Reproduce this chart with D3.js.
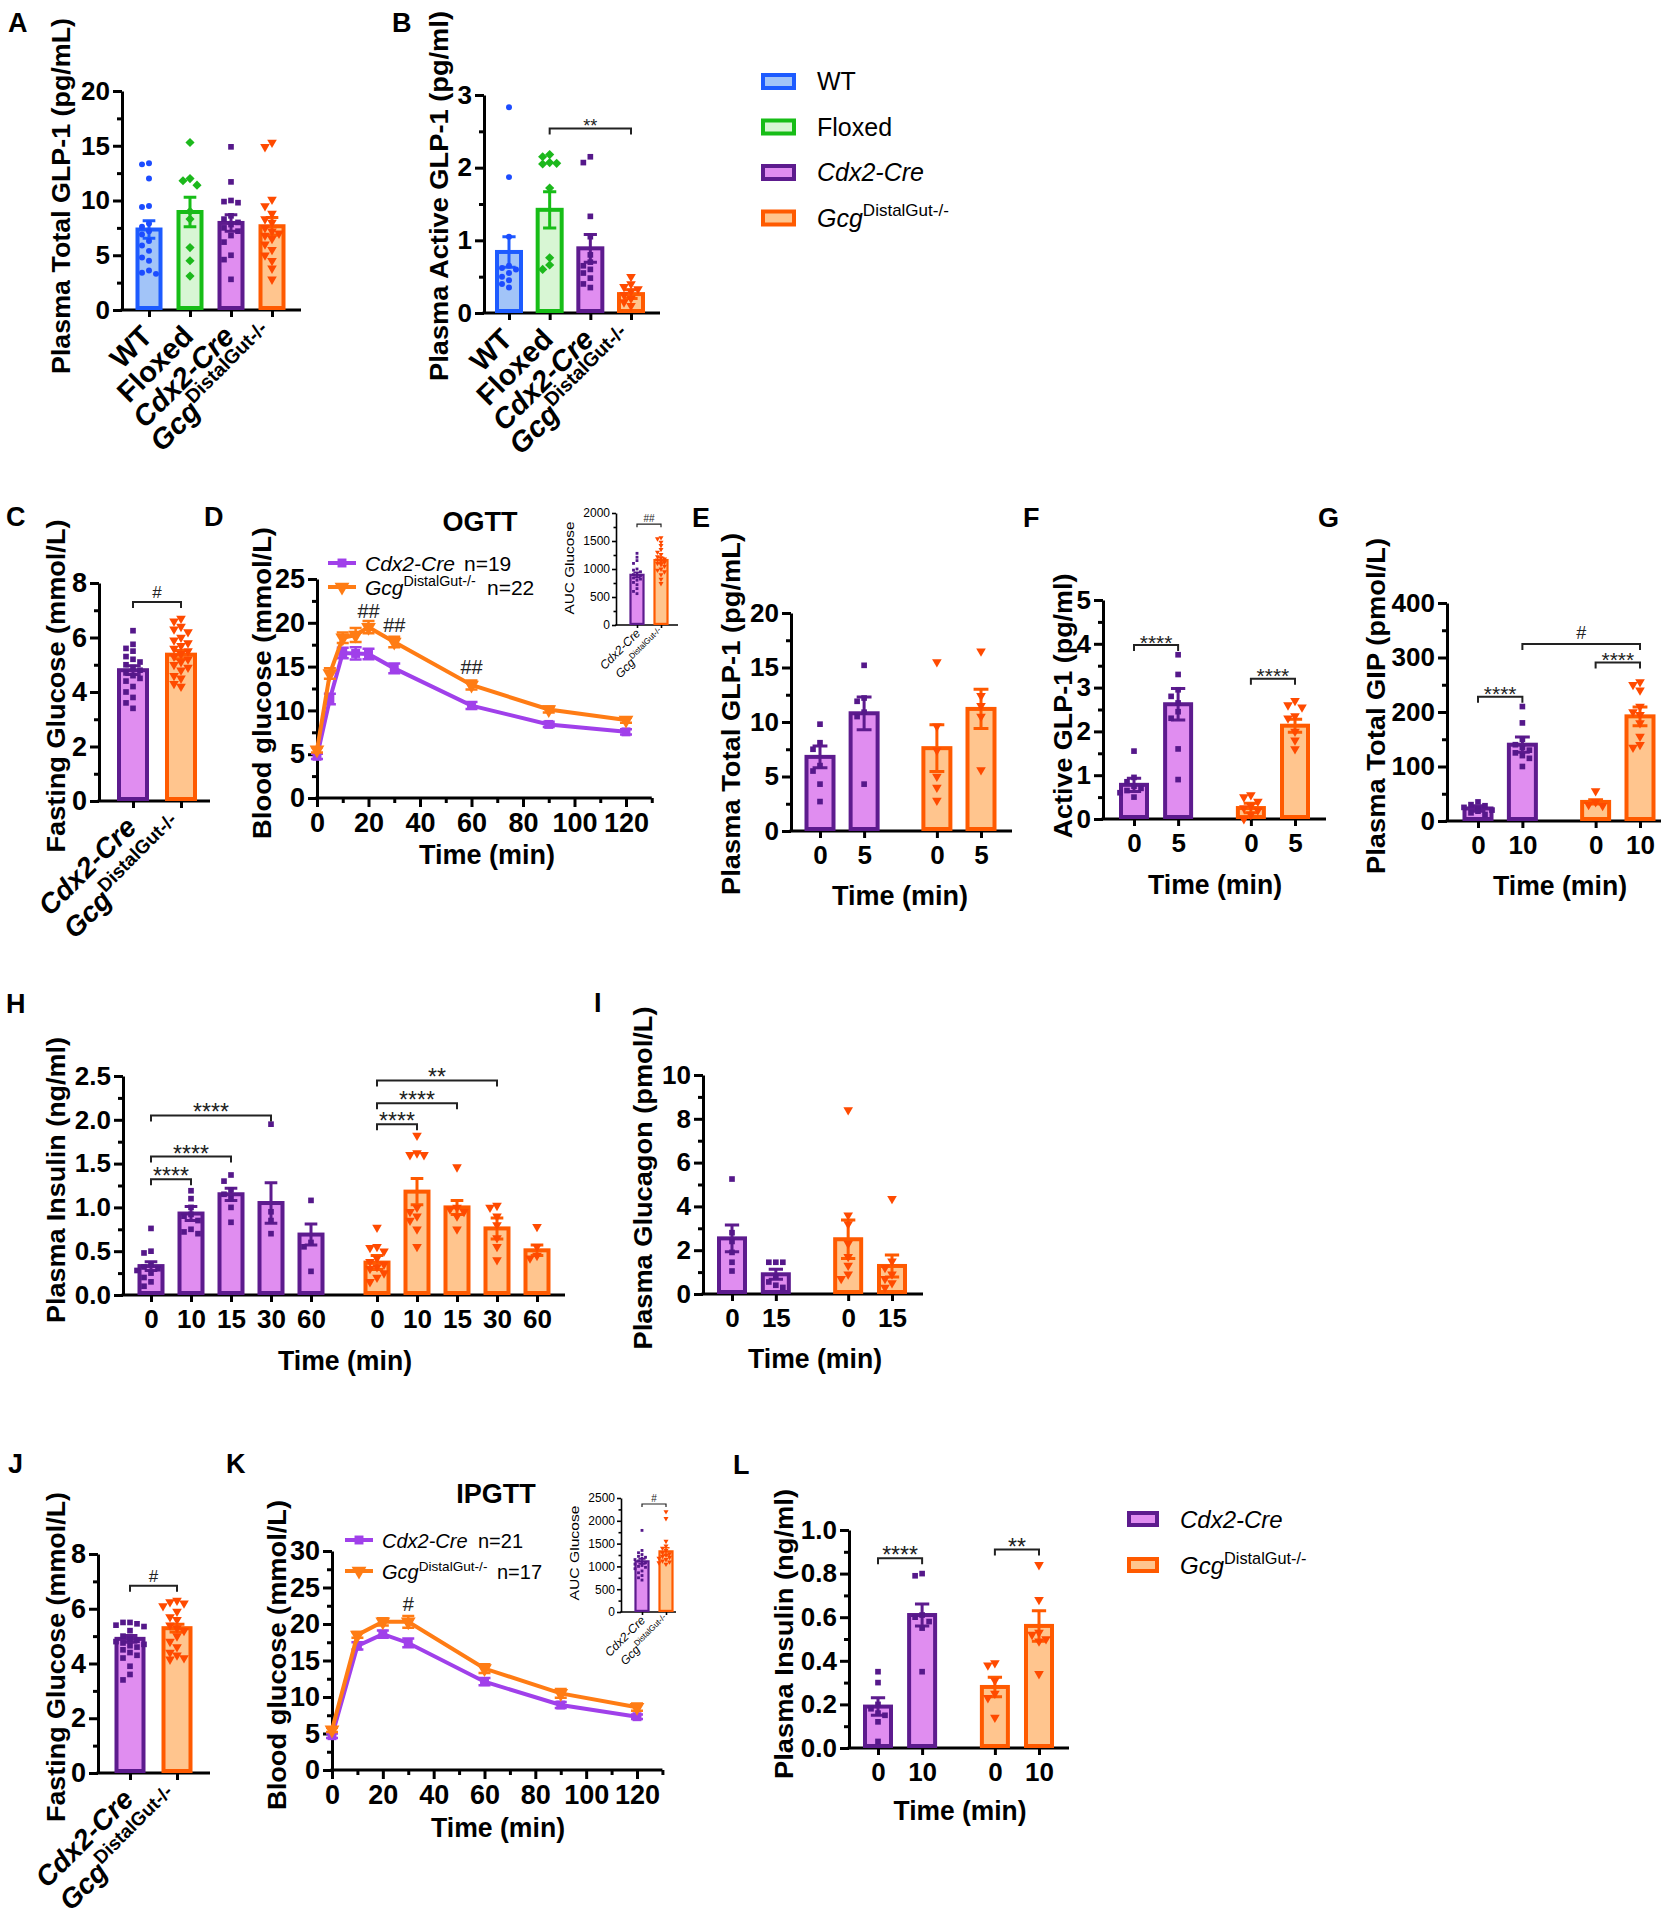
<!DOCTYPE html>
<html><head><meta charset="utf-8">
<script src="https://cdn.jsdelivr.net/npm/d3@7"></script>
<style>body{margin:0;background:#fff}</style>
</head><body>
<script>
// ======================= DATA =======================
const genoA = ["WT", "Floxed", "Cdx2-Cre", "Gcg^DistalGut-/-"];
const genoKeysA = ["wt", "fl", "cdx", "gcg"];
const geno2 = ["Cdx2-Cre", "Gcg^DistalGut-/-"];
const geno2Keys = ["cdx", "gcg"];

// A: Plasma total GLP-1
const A_mean = [7.35, 8.95, 7.95, 7.65];
const A_sem = [0.8, 1.35, 0.75, 0.8];
const A_pts = [
  [13.3, 13.4, 12.0, 9.4, 9.5, 7.9, 7.2, 6.9, 6.3, 5.9, 5.4, 4.8, 4.5, 3.6, 3.4, 3.3, 7.6],
  [15.3, 12.0, 11.8, 11.4, 9.0, 8.3, 5.7, 4.5, 3.1],
  [14.9, 11.7, 9.9, 9.8, 10.0, 8.6, 8.3, 7.8, 7.2, 6.8, 6.2, 5.0, 4.6, 2.8, 8.0, 7.5],
  [15.3, 14.9, 10.1, 9.5, 8.8, 8.3, 8.0, 7.5, 7.0, 6.5, 6.0, 5.5, 5.0, 4.5, 3.8, 2.8, 6.8, 7.2]
];
// B: Plasma active GLP-1
const B_mean = [0.84, 1.42, 0.89, 0.26];
const B_sem = [0.21, 0.25, 0.19, 0.06];
const B_pts = [
  [2.83, 1.87, 1.05, 0.65, 0.62, 0.55, 0.5, 0.45, 0.4, 0.35, 0.6],
  [2.18, 2.15, 2.07, 2.05, 2.06, 1.72, 0.76, 0.6, 0.66],
  [2.15, 2.07, 1.33, 1.05, 0.8, 0.7, 0.65, 0.55, 0.48, 0.4, 0.35, 0.6],
  [0.5, 0.4, 0.36, 0.33, 0.3, 0.25, 0.2, 0.15, 0.1]
];
// C: fasting glucose (OGTT cohort)
const C_mean = [4.8, 5.37];
const C_sem = [0.16, 0.15];
const C_pts = [
  [6.25, 5.75, 5.6, 5.5, 5.3, 5.2, 5.1, 5.0, 4.9, 4.8, 4.7, 4.6, 4.5, 4.4, 4.2, 4.0, 3.8, 3.6, 3.4],
  [6.7, 6.6, 6.4, 6.3, 6.2, 6.0, 5.9, 5.8, 5.7, 5.6, 5.5, 5.4, 5.3, 5.2, 5.1, 5.0, 4.9, 4.8, 4.6, 4.5, 4.3, 4.2]
];
// D: OGTT
const D_time = [0, 5, 10, 15, 20, 30, 60, 90, 120];
const D_cdx = [4.76, 11.3, 16.55, 16.5, 16.45, 14.8, 10.55, 8.4, 7.55];
const D_cdxSem = [0.3, 0.6, 0.6, 0.7, 0.6, 0.55, 0.4, 0.3, 0.3];
const D_gcg = [5.5, 14.2, 18.3, 18.6, 19.5, 17.8, 12.9, 10.1, 8.9];
const D_gcgSem = [0.3, 0.6, 0.6, 0.8, 0.7, 0.6, 0.5, 0.35, 0.3];
const D_sigTime = [20, 30, 60];
const D_sigVal = [21.3, 19.8, 15.0];
const D_n = ["n=19", "n=22"];
const D_aucMean = [896, 1160];
const D_aucSem = [45, 45];
const D_aucPts = [
  [1280, 1210, 1150, 1100, 1000, 980, 950, 920, 900, 880, 860, 840, 820, 800, 760, 720, 650, 600, 560],
  [1560, 1540, 1480, 1420, 1350, 1300, 1260, 1220, 1200, 1180, 1160, 1140, 1120, 1100, 1080, 1050, 1000, 980, 950, 900, 820, 740]
];
// E: total GLP-1 (0, 5 min)
const E_times = ["0", "5"];
const E_mean = [[6.8, 10.8], [7.6, 11.2]];
const E_sem = [[1.0, 1.5], [2.15, 1.8]];
const E_pts = [
  [[9.8, 8.1, 7.5, 6.0, 5.5, 4.3, 2.7], [15.2, 12.2, 11.9, 10.9, 10.5, 4.3]],
  [[15.5, 9.6, 7.4, 5.0, 4.0, 2.8], [16.5, 12.4, 11.5, 10.5, 5.6]]
];
// F: active GLP-1
const F_times = ["0", "5"];
const F_mean = [[0.78, 2.62], [0.25, 2.13]];
const F_sem = [[0.15, 0.36], [0.11, 0.15]];
const F_pts = [
  [[1.55, 0.95, 0.85, 0.75, 0.7, 0.65, 0.6, 0.5], [3.75, 3.3, 2.95, 2.8, 2.65, 2.45, 2.3, 1.6, 0.9]],
  [[0.55, 0.5, 0.4, 0.3, 0.25, 0.2, 0.1, 0.0], [2.7, 2.6, 2.55, 2.35, 2.3, 2.0, 1.8, 1.6]]
];
// G: total GIP
const G_times = ["0", "10"];
const G_mean = [[23, 140], [35, 192]];
const G_sem = [[5, 14], [4, 17]];
const G_pts = [
  [[35, 30, 28, 25, 22, 20, 18, 15, 12], [210, 180, 150, 140, 135, 130, 125, 120, 115, 100]],
  [[55, 35, 30, 28], [255, 250, 240, 210, 200, 195, 180, 155, 140, 135]]
];
// H: plasma insulin OGTT
const H_times = ["0", "10", "15", "30", "60"];
const H_mean = [[0.33, 0.93, 1.15, 1.05, 0.69], [0.37, 1.18, 1.0, 0.76, 0.51]];
const H_sem = [[0.05, 0.08, 0.07, 0.23, 0.12], [0.08, 0.15, 0.08, 0.12, 0.06]];
const H_pts = [
  [[0.76, 0.5, 0.48, 0.35, 0.3, 0.28, 0.25, 0.2, 0.15, 0.1, 0.32],
   [1.19, 1.1, 1.0, 0.92, 0.9, 0.85, 0.75, 0.72, 0.7],
   [1.37, 1.3, 1.2, 1.15, 1.1, 1.0, 0.83],
   [1.95, 0.95, 0.85, 0.7],
   [1.08, 0.6, 0.55, 0.27]],
  [[0.77, 0.55, 0.54, 0.5, 0.42, 0.35, 0.3, 0.25, 0.2, 0.15, 0.32, 0.38],
   [1.82, 1.62, 1.6, 1.6, 1.0, 0.95, 0.9, 0.85, 0.75, 0.55],
   [1.46, 1.0, 0.98, 0.95, 0.9, 0.75],
   [1.02, 1.0, 0.9, 0.8, 0.65, 0.55, 0.4],
   [0.78, 0.55, 0.45, 0.42]]
];
// I: plasma glucagon
const I_times = ["0", "15"];
const I_mean = [[2.54, 0.9], [2.5, 1.28]];
const I_sem = [[0.61, 0.23], [0.88, 0.5]];
const I_pts = [
  [[5.25, 2.8, 2.4, 1.9, 1.45, 1.05], [1.45, 1.45, 1.45, 0.8, 0.55, 0.4, 0.3]],
  [[8.4, 3.6, 3.2, 2.3, 1.7, 1.3, 0.9, 0.7], [4.35, 1.5, 1.2, 0.9, 0.7, 0.5, 0.3]]
];
// J: fasting glucose (IPGTT cohort)
const J_mean = [4.9, 5.29];
const J_sem = [0.12, 0.14];
const J_pts = [
  [5.5, 5.5, 5.45, 5.4, 5.35, 5.2, 5.0, 4.9, 4.85, 4.8, 4.75, 4.7, 4.65, 4.6, 4.5, 4.4, 4.3, 4.2, 3.9, 3.6, 3.4],
  [6.3, 6.25, 6.2, 6.1, 5.9, 5.7, 5.6, 5.4, 5.3, 5.2, 5.0, 4.8, 4.6, 4.4, 4.3, 4.2, 4.15]
];
// K: IPGTT
const K_time = [0, 10, 20, 30, 60, 90, 120];
const K_cdx = [4.7, 17.0, 18.6, 17.4, 12.1, 8.9, 7.3];
const K_cdxSem = [0.3, 0.5, 0.5, 0.6, 0.5, 0.4, 0.3];
const K_gcg = [5.5, 18.5, 20.3, 20.3, 13.9, 10.5, 8.6];
const K_gcgSem = [0.3, 0.4, 0.5, 0.8, 0.6, 0.6, 0.5];
const K_sigTime = [30];
const K_sigVal = [22.7];
const K_n = ["n=21", "n=17"];
const K_aucMean = [1111, 1330];
const K_aucSem = [55, 80];
const K_aucPts = [
  [1790, 1350, 1300, 1260, 1220, 1200, 1180, 1150, 1120, 1100, 1080, 1050, 1020, 1000, 980, 950, 900, 860, 800, 750, 700],
  [2200, 2050, 1550, 1450, 1400, 1350, 1300, 1280, 1250, 1220, 1200, 1180, 1150, 1120, 1100, 1080, 1050]
];
// L: plasma insulin IPGTT
const L_times = ["0", "10"];
const L_mean = [[0.19, 0.61], [0.28, 0.56]];
const L_sem = [[0.04, 0.05], [0.045, 0.07]];
const L_pts = [
  [[0.35, 0.3, 0.2, 0.18, 0.16, 0.15, 0.12, 0.03], [0.8, 0.79, 0.61, 0.6, 0.58, 0.55, 0.35]],
  [[0.39, 0.38, 0.31, 0.25, 0.23, 0.14], [0.84, 0.68, 0.53, 0.52, 0.5, 0.49, 0.34]]
];

// ======================= STYLE =======================
const FONT = "'Liberation Sans', Arial, Helvetica, sans-serif";
const ITALIC = new Set(["Cdx2-Cre", "Gcg"]);
const STY = {
  wt:  {stroke: "#1d5bff", fill: "#a2c4f8", pt: "#1c4cff", shape: "circle"},
  fl:  {stroke: "#17bd17", fill: "#d8f6d4", pt: "#1cb81c", shape: "diamond"},
  cdx: {stroke: "#5d1b8e", fill: "#e08df0", pt: "#55188a", shape: "square", line: "#a040ea"},
  gcg: {stroke: "#ff5a00", fill: "#ffc58e", pt: "#ff4a00", shape: "tri", line: "#ff7c14"}
};

const svg = d3.select("body").append("svg")
  .attr("width", 1665).attr("height", 1920)
  .style("font-family", FONT).style("background", "#fff");

// ======================= HELPERS =======================
function richText(t, label, fs, supScale = 0.68) {
  const parts = label.split("^");
  t.append("tspan").text(parts[0]).attr("font-style", ITALIC.has(parts[0]) ? "italic" : "normal");
  if (parts[1]) t.append("tspan").text(parts[1]).attr("font-size", fs * supScale)
    .attr("dy", -fs * 0.42).attr("font-style", "normal");
}
function text(x, y, s, o = {}) {
  const t = svg.append("text")
    .attr("transform", `translate(${x},${y}) rotate(${o.rot || 0})`)
    .attr("font-size", o.fs || 25)
    .attr("font-weight", o.weight || "bold")
    .attr("text-anchor", o.anchor || "middle")
    .attr("fill", "#000");
  if (o.central) t.attr("dominant-baseline", "central");
  if (o.len) t.attr("textLength", o.len).attr("lengthAdjust", "spacingAndGlyphs");
  richText(t, s, o.fs || 25);
  return t;
}
function marker(x, y, shape, size, color, sel = svg) {
  let type = d3.symbolSquare, rot = 0;
  if (shape === "circle") type = d3.symbolCircle;
  if (shape === "diamond") { type = d3.symbolSquare; rot = 45; }
  if (shape === "tri") { type = d3.symbolTriangle; rot = 180; }
  sel.append("path").attr("d", d3.symbol(type, size)())
    .attr("transform", `translate(${x},${y}) rotate(${rot})`).attr("fill", color);
}
function swarm(vals, ys, cx, d, maxOff) {
  const placed = [];
  vals.map(v => v).sort((a, b) => b - a).forEach(v => {
    const py = ys(v);
    let off = 0;
    for (let k = 0; k < 30; k++) {
      const o = k === 0 ? 0 : (k % 2 ? -1 : 1) * Math.ceil(k / 2) * d;
      if (Math.abs(o) > maxOff) { off = 0; break; }
      if (!placed.some(p => Math.abs(p.x - (cx + o)) < d - 0.3 && Math.abs(p.y - py) < d - 0.3)) { off = o; break; }
    }
    placed.push({x: cx + off, y: py});
  });
  return placed;
}
function yAxis(ys, x, majors, minorStep, fmt, fs, small) {
  const sw = small ? 1.6 : 3;
  const g = svg.append("g").attr("transform", `translate(${x},0)`)
    .call(d3.axisLeft(ys).tickValues(majors).tickFormat(fmt).tickSize(small ? 4 : 9).tickSizeOuter(0).tickPadding(small ? 2 : 3));
  g.select(".domain").attr("stroke", "#000").attr("stroke-width", sw);
  g.selectAll(".tick line").attr("stroke", "#000").attr("stroke-width", sw);
  g.selectAll(".tick text").attr("font-size", fs).attr("font-weight", small ? "normal" : "bold")
    .attr("font-family", FONT).attr("fill", "#000");
  const [lo, hi] = ys.domain();
  const minors = d3.range(lo + minorStep, hi, minorStep).filter(v => !majors.some(m => Math.abs(m - v) < 1e-6));
  if (minors.length) {
    const g2 = svg.append("g").attr("transform", `translate(${x},0)`)
      .call(d3.axisLeft(ys).tickValues(minors).tickFormat("").tickSize(small ? 2.5 : 5).tickSizeOuter(0));
    g2.select(".domain").remove();
    g2.selectAll(".tick line").attr("stroke", "#000").attr("stroke-width", sw);
  }
}
function bracket(x1, x2, y, label, fs, tick = 6, sw = 2, up = 0) {
  svg.append("path").attr("d", `M${x1},${y + tick}V${y}H${x2}V${y + tick}`)
    .attr("fill", "none").attr("stroke", "#222").attr("stroke-width", sw);
  const isStar = label.includes("*");
  svg.append("text").attr("x", (x1 + x2) / 2).attr("y", isStar ? y + fs * 0.22 - up : y - fs * 0.25 - up)
    .attr("text-anchor", "middle").attr("font-size", fs).attr("fill", "#222").text(label);
}
function letter(x, y, s) { text(x, y, s, {fs: 27, anchor: "start"}); }

// Generic bar + scatter panel
function barPanel(o) {
  const small = !!o.small;
  const ys = d3.scaleLinear().domain([0, o.yMax]).range([o.y0, o.yTop]);
  const lastSlot = d3.max(o.bars, b => b.slot);
  const xs = d3.scaleLinear().domain([0, lastSlot]).range([o.firstX, o.lastX]);
  const sw = small ? 1.6 : 3;
  yAxis(ys, o.axisX, o.majors, o.minorStep, o.fmt || d3.format("d"), o.fs, small);
  svg.append("line").attr("x1", o.axisX - sw / 2).attr("x2", o.xEnd).attr("y1", o.y0).attr("y2", o.y0)
    .attr("stroke", "#000").attr("stroke-width", sw);
  const gx = svg.append("g").attr("transform", `translate(0,${o.y0})`)
    .call(d3.axisBottom(xs).tickValues(o.bars.map(b => b.slot)).tickSizeOuter(0).tickSize(small ? 3 : 7)
      .tickPadding(small ? 2 : 8).tickFormat((d, i) => o.rot ? "" : o.bars[i].tick));
  gx.select(".domain").remove();
  gx.selectAll(".tick line").attr("stroke", "#000").attr("stroke-width", sw);
  gx.selectAll(".tick text").attr("font-size", o.fs).attr("font-weight", "bold").attr("font-family", FONT).attr("fill", "#000");

  const bw = o.barW, bsw = small ? 2.2 : 4;
  o.bars.forEach(b => {
    const st = STY[b.s], cx = xs(b.slot);
    svg.append("rect").attr("x", cx - bw / 2).attr("width", bw)
      .attr("y", ys(b.mean)).attr("height", o.y0 - ys(b.mean) - bsw / 2)
      .attr("fill", st.fill).attr("stroke", st.stroke).attr("stroke-width", bsw);
    const cw = bw * 0.55, esw = small ? 1.6 : 3;
    const yHi = ys(b.mean + b.sem), yLo = ys(Math.max(0, b.mean - b.sem));
    svg.append("path").attr("d", `M${cx},${yLo}V${yHi}M${cx - cw / 2},${yHi}H${cx + cw / 2}M${cx - cw / 2},${yLo}H${cx + cw / 2}`)
      .attr("stroke", st.stroke).attr("stroke-width", esw).attr("fill", "none");
    const d = o.ptGap || 7;
    swarm(b.pts, ys, cx, d, bw / 2 + d).forEach(p => marker(p.x, p.y, st.shape, o.ptSize[st.shape], st.pt));
    if (o.rot) {
      text(cx + (o.rotDx ?? 5), o.y0 + (o.rotDy ?? 28), b.label, {fs: o.rotFs, rot: -45, anchor: "end", weight: small ? "normal" : "bold"});
    }
  });
  (o.sigs || []).forEach(s => bracket(xs(s.a), xs(s.b), ys(s.v), s.t, s.fs || 16, small ? 3 : 6, small ? 1.2 : 2));
  if (o.ylab) text(o.ylab.x, o.ylab.y, o.ylab.t, {fs: o.ylab.fs || 26, rot: -90, central: true, len: o.ylab.len, weight: small ? "normal" : "bold"});
  if (o.xlab) text(o.xlab.x, o.xlab.y, o.xlab.t, {fs: 27, len: o.xlab.len});
  return {xs, ys};
}
function groupedBars(keys, times, means, sems, pts) {
  const out = [];
  keys.forEach((k, g) => times.forEach((t, i) => out.push({
    slot: i + g * (times.length + 0.65), s: k, tick: t, mean: means[g][i], sem: sems[g][i], pts: pts[g][i]
  })));
  return out;
}
const slotOf = (n) => (g, i) => i + g * (n + 0.65);

// Line (tolerance test) panel
function linePanel(o) {
  const xs = d3.scaleLinear().domain([0, 120]).range([o.x0, o.x120]);
  const ys = d3.scaleLinear().domain([0, o.yMax]).range([o.y0, o.yTop]);
  yAxis(ys, xs(0), o.majors, o.minorStep, d3.format("d"), o.fs, false);
  const gx = svg.append("g").attr("transform", `translate(0,${o.y0})`)
    .call(d3.axisBottom(xs).tickValues(d3.range(0, 121, 20)).tickSize(9).tickSizeOuter(0).tickPadding(6).tickFormat(d3.format("d")));
  gx.select(".domain").remove();
  gx.selectAll(".tick line").attr("stroke", "#000").attr("stroke-width", 3);
  gx.selectAll(".tick text").attr("font-size", o.fs).attr("font-weight", "bold").attr("font-family", FONT).attr("fill", "#000");
  const gm = svg.append("g").attr("transform", `translate(0,${o.y0})`)
    .call(d3.axisBottom(xs).tickValues(d3.range(10, 131, 20)).tickSize(5).tickSizeOuter(0).tickFormat(""));
  gm.select(".domain").remove();
  gm.selectAll(".tick line").attr("stroke", "#000").attr("stroke-width", 3);
  svg.append("line").attr("x1", xs(0) - 1.5).attr("x2", xs(130)).attr("y1", o.y0).attr("y2", o.y0)
    .attr("stroke", "#000").attr("stroke-width", 3);

  o.series.forEach(se => {
    const st = STY[se.s];
    svg.append("path").datum(o.time.map((t, i) => [t, se.v[i]]))
      .attr("d", d3.line().x(d => xs(d[0])).y(d => ys(d[1])))
      .attr("fill", "none").attr("stroke", st.line).attr("stroke-width", 4);
    o.time.forEach((t, i) => {
      const cx = xs(t), h = ys(se.v[i] + se.e[i]), l = ys(se.v[i] - se.e[i]);
      svg.append("path").attr("d", `M${cx},${l}V${h}M${cx - 6},${h}H${cx + 6}M${cx - 6},${l}H${cx + 6}`)
        .attr("stroke", st.line).attr("stroke-width", 2.5).attr("fill", "none");
      marker(cx, ys(se.v[i]), st.shape, st.shape === "tri" ? 95 : 80, st.line);
    });
  });
  o.sigT.forEach((t, i) => svg.append("text").attr("x", xs(t)).attr("y", ys(o.sigV[i]) + 7)
    .attr("text-anchor", "middle").attr("font-size", 20).attr("fill", "#222").text(o.sigT.length > 1 ? "##" : "#"));
  // legend
  o.series.forEach((se, i) => {
    const st = STY[se.s], ly = o.legY + i * o.legDy;
    svg.append("line").attr("x1", o.legX).attr("x2", o.legX + 28).attr("y1", ly).attr("y2", ly)
      .attr("stroke", st.line).attr("stroke-width", 4);
    marker(o.legX + 14, ly, st.shape, st.shape === "tri" ? 95 : 80, st.line);
    text(o.legX + 37, ly + 8, geno2[i], {fs: o.legFs, anchor: "start", weight: "normal"});
    text(o.nX[i], ly + 8, o.n[i], {fs: o.legFs, anchor: "start", weight: "normal"});
  });
  text(o.title.x, o.title.y, o.title.t, {fs: 27});
  text(o.ylab.x, o.ylab.y, o.ylab.t, {fs: 26, rot: -90, central: true, len: o.ylab.len});
  text(o.xlab.x, o.xlab.y, "Time (min)", {fs: 27, len: o.xlab.len});
}

const PT = {circle: 28, diamond: 42, square: 32, tri: 40};
const PT_S = {circle: 8, diamond: 10, square: 8, tri: 11};

// ======================= PANEL A =======================
letter(8, 32, "A");
barPanel({
  axisX: 122, y0: 310, yTop: 91, xEnd: 301, yMax: 20, majors: [0, 5, 10, 15, 20], minorStep: 2.5, fs: 26,
  firstX: 149, lastX: 272, barW: 23, ptSize: PT, rot: true, rotFs: 29,
  bars: genoA.map((g, i) => ({slot: i, s: genoKeysA[i], label: g, mean: A_mean[i], sem: A_sem[i], pts: A_pts[i]})),
  ylab: {t: "Plasma Total GLP-1 (pg/mL)", x: 61, y: 196, len: 356}
});
// ======================= PANEL B =======================
letter(392, 32, "B");
barPanel({
  axisX: 484, y0: 313, yTop: 95, xEnd: 660, yMax: 3, majors: [0, 1, 2, 3], minorStep: 0.5, fs: 26,
  firstX: 509, lastX: 631, barW: 24, ptSize: PT, rot: true, rotFs: 29,
  bars: genoA.map((g, i) => ({slot: i, s: genoKeysA[i], label: g, mean: B_mean[i], sem: B_sem[i], pts: B_pts[i]})),
  sigs: [{a: 1, b: 3, v: 2.54, t: "**", fs: 18}],
  ylab: {t: "Plasma Active GLP-1 (pg/ml)", x: 439, y: 196, len: 370}
});
// top legend
genoA.forEach((g, i) => {
  const st = STY[genoKeysA[i]], cy = 81.5 + i * 45.5;
  svg.append("rect").attr("x", 763).attr("y", cy - 6.5).attr("width", 31).attr("height", 13)
    .attr("fill", st.fill).attr("stroke", st.stroke).attr("stroke-width", 4);
  text(817, cy + 8.5, g, {fs: 25, anchor: "start", weight: "normal"});
});

// ======================= PANEL C =======================
letter(6, 526, "C");
barPanel({
  axisX: 99, y0: 801, yTop: 583, xEnd: 210, yMax: 8, majors: [0, 2, 4, 6, 8], minorStep: 1, fs: 27,
  firstX: 133, lastX: 181, barW: 28, ptSize: PT, rot: true, rotFs: 28,
  bars: geno2.map((g, i) => ({slot: i, s: geno2Keys[i], label: g, mean: C_mean[i], sem: C_sem[i], pts: C_pts[i]})),
  sigs: [{a: 0, b: 1, v: 7.3, t: "#", fs: 17}],
  ylab: {t: "Fasting Glucose (mmol/L)", x: 56, y: 686, len: 333}
});
// ======================= PANEL D =======================
letter(204, 526, "D");
linePanel({
  x0: 317, x120: 626, y0: 798, yTop: 579, yMax: 25, majors: [0, 5, 10, 15, 20, 25], minorStep: 2.5, fs: 27,
  time: D_time,
  series: [{s: "cdx", v: D_cdx, e: D_cdxSem}, {s: "gcg", v: D_gcg, e: D_gcgSem}],
  sigT: D_sigTime, sigV: D_sigVal,
  legX: 328, legY: 563, legDy: 24, legFs: 21, n: D_n, nX: [464, 487],
  title: {t: "OGTT", x: 480, y: 531},
  ylab: {t: "Blood glucose (mmol/L)", x: 262, y: 683, len: 312},
  xlab: {x: 487, y: 864, len: 136}
});
barPanel({
  small: true, axisX: 616, y0: 625, yTop: 513, xEnd: 678, yMax: 2000, majors: [0, 500, 1000, 1500, 2000], minorStep: 250, fs: 12,
  firstX: 637, lastX: 661, barW: 13, ptSize: PT_S, ptGap: 3.5, rot: true, rotFs: 12, rotDx: 4, rotDy: 9,
  bars: geno2.map((g, i) => ({slot: i, s: geno2Keys[i], label: g, mean: D_aucMean[i], sem: D_aucSem[i], pts: D_aucPts[i]})),
  sigs: [{a: 0, b: 1, v: 1800, t: "##", fs: 10}],
  ylab: {t: "AUC Glucose", x: 569, y: 568, len: 93, fs: 13}
});

// ======================= PANEL E =======================
letter(692, 527, "E");
barPanel({
  axisX: 791, y0: 831, yTop: 613, xEnd: 1012, yMax: 20, majors: [0, 5, 10, 15, 20], minorStep: 2.5, fs: 26,
  firstX: 820, lastX: 981, barW: 27, ptSize: PT,
  bars: groupedBars(geno2Keys, E_times, E_mean, E_sem, E_pts),
  ylab: {t: "Plasma Total GLP-1 (pg/mL)", x: 731, y: 714, len: 362},
  xlab: {t: "Time (min)", x: 900, y: 905, len: 136}
});
// ======================= PANEL F =======================
letter(1023, 527, "F");
const sF = slotOf(F_times.length);
barPanel({
  axisX: 1103, y0: 819, yTop: 600, xEnd: 1326, yMax: 5, majors: [0, 1, 2, 3, 4, 5], minorStep: 0.5, fs: 26,
  firstX: 1134, lastX: 1295, barW: 26, ptSize: PT,
  bars: groupedBars(geno2Keys, F_times, F_mean, F_sem, F_pts),
  sigs: [{a: sF(0, 0), b: sF(0, 1), v: 3.97, t: "****", fs: 21}, {a: sF(1, 0), b: sF(1, 1), v: 3.2, t: "****", fs: 21}],
  ylab: {t: "Active GLP-1 (pg/ml)", x: 1063, y: 706, len: 265},
  xlab: {t: "Time (min)", x: 1215, y: 894, len: 134}
});
// ======================= PANEL G =======================
letter(1318, 527, "G");
const sG = slotOf(G_times.length);
barPanel({
  axisX: 1447, y0: 821, yTop: 603, xEnd: 1661, yMax: 400, majors: [0, 100, 200, 300, 400], minorStep: 50, fs: 26,
  firstX: 1478, lastX: 1640, barW: 27, ptSize: PT,
  bars: groupedBars(geno2Keys, G_times, G_mean, G_sem, G_pts),
  sigs: [{a: sG(0, 0), b: sG(0, 1), v: 228, t: "****", fs: 21}, {a: sG(1, 0), b: sG(1, 1), v: 291, t: "****", fs: 21},
         {a: sG(0, 1), b: sG(1, 1), v: 325, t: "#", fs: 18}],
  ylab: {t: "Plasma Total GIP (pmol/L)", x: 1376, y: 706, len: 336},
  xlab: {t: "Time (min)", x: 1560, y: 895, len: 134}
});

// ======================= PANEL H =======================
letter(6, 1013, "H");
const sH = slotOf(H_times.length);
barPanel({
  axisX: 123, y0: 1295, yTop: 1076, xEnd: 565, yMax: 2.5, majors: [0, 0.5, 1, 1.5, 2, 2.5], minorStep: 0.25, fs: 26,
  fmt: d3.format(".1f"), firstX: 151, lastX: 537, barW: 23, ptSize: PT,
  bars: groupedBars(geno2Keys, H_times, H_mean, H_sem, H_pts),
  sigs: [{a: sH(0, 0), b: sH(0, 1), v: 1.32, t: "****", fs: 23}, {a: sH(0, 0), b: sH(0, 2), v: 1.58, t: "****", fs: 23},
         {a: sH(0, 0), b: sH(0, 3), v: 2.05, t: "****", fs: 23}, {a: sH(1, 0), b: sH(1, 1), v: 1.95, t: "****", fs: 23},
         {a: sH(1, 0), b: sH(1, 2), v: 2.19, t: "****", fs: 23}, {a: sH(1, 0), b: sH(1, 3), v: 2.45, t: "**", fs: 23}],
  ylab: {t: "Plasma Insulin (ng/ml)", x: 56, y: 1180, len: 286},
  xlab: {t: "Time (min)", x: 345, y: 1370, len: 134}
});
// ======================= PANEL I =======================
letter(594, 1012, "I");
barPanel({
  axisX: 703, y0: 1294, yTop: 1075, xEnd: 923, yMax: 10, majors: [0, 2, 4, 6, 8, 10], minorStep: 1, fs: 26,
  firstX: 732, lastX: 892, barW: 26, ptSize: PT,
  bars: groupedBars(geno2Keys, I_times, I_mean, I_sem, I_pts),
  ylab: {t: "Plasma Glucagon (pmol/L)", x: 643, y: 1178, len: 343},
  xlab: {t: "Time (min)", x: 815, y: 1368, len: 134}
});

// ======================= PANEL J =======================
letter(8, 1473, "J");
barPanel({
  axisX: 98, y0: 1773, yTop: 1554, xEnd: 210, yMax: 8, majors: [0, 2, 4, 6, 8], minorStep: 1, fs: 27,
  firstX: 130, lastX: 177, barW: 27, ptSize: PT, rot: true, rotFs: 28,
  bars: geno2.map((g, i) => ({slot: i, s: geno2Keys[i], label: g, mean: J_mean[i], sem: J_sem[i], pts: J_pts[i]})),
  sigs: [{a: 0, b: 1, v: 6.84, t: "#", fs: 17}],
  ylab: {t: "Fasting Glucose (mmol/L)", x: 56, y: 1657, len: 330}
});
// ======================= PANEL K =======================
letter(226, 1473, "K");
linePanel({
  x0: 332, x120: 637, y0: 1770, yTop: 1551, yMax: 30, majors: [0, 5, 10, 15, 20, 25, 30], minorStep: 2.5, fs: 27,
  time: K_time,
  series: [{s: "cdx", v: K_cdx, e: K_cdxSem}, {s: "gcg", v: K_gcg, e: K_gcgSem}],
  sigT: K_sigTime, sigV: K_sigVal,
  legX: 345, legY: 1540, legDy: 31, legFs: 20, n: K_n, nX: [478, 497],
  title: {t: "IPGTT", x: 496, y: 1503},
  ylab: {t: "Blood glucose (mmol/L)", x: 277, y: 1655, len: 310},
  xlab: {x: 498, y: 1837, len: 134}
});
barPanel({
  small: true, axisX: 621, y0: 1612, yTop: 1498, xEnd: 676, yMax: 2500, majors: [0, 500, 1000, 1500, 2000, 2500], minorStep: 250, fs: 12,
  firstX: 642, lastX: 666, barW: 13, ptSize: PT_S, ptGap: 3.5, rot: true, rotFs: 12, rotDx: 4, rotDy: 9,
  bars: geno2.map((g, i) => ({slot: i, s: geno2Keys[i], label: g, mean: K_aucMean[i], sem: K_aucSem[i], pts: K_aucPts[i]})),
  sigs: [{a: 0, b: 1, v: 2368, t: "#", fs: 10}],
  ylab: {t: "AUC Glucose", x: 574, y: 1553, len: 95, fs: 13}
});

// ======================= PANEL L =======================
letter(733, 1474, "L");
const sL = slotOf(L_times.length);
barPanel({
  axisX: 849, y0: 1748, yTop: 1530, xEnd: 1069, yMax: 1, majors: [0, 0.2, 0.4, 0.6, 0.8, 1.0], minorStep: 0.1, fs: 26,
  fmt: d3.format(".1f"), firstX: 878, lastX: 1039, barW: 26, ptSize: PT,
  bars: groupedBars(geno2Keys, L_times, L_mean, L_sem, L_pts),
  sigs: [{a: sL(0, 0), b: sL(0, 1), v: 0.87, t: "****", fs: 23}, {a: sL(1, 0), b: sL(1, 1), v: 0.91, t: "**", fs: 23}],
  ylab: {t: "Plasma Insulin (ng/ml)", x: 784, y: 1634, len: 290},
  xlab: {t: "Time (min)", x: 960, y: 1820, len: 133}
});
geno2.forEach((g, i) => {
  const st = STY[geno2Keys[i]], cy = 1519 + i * 46;
  svg.append("rect").attr("x", 1129).attr("y", cy - 6).attr("width", 28).attr("height", 12)
    .attr("fill", st.fill).attr("stroke", st.stroke).attr("stroke-width", 4);
  text(1180, cy + 9, g, {fs: 24, anchor: "start", weight: "normal"});
});
</script>
</body></html>
